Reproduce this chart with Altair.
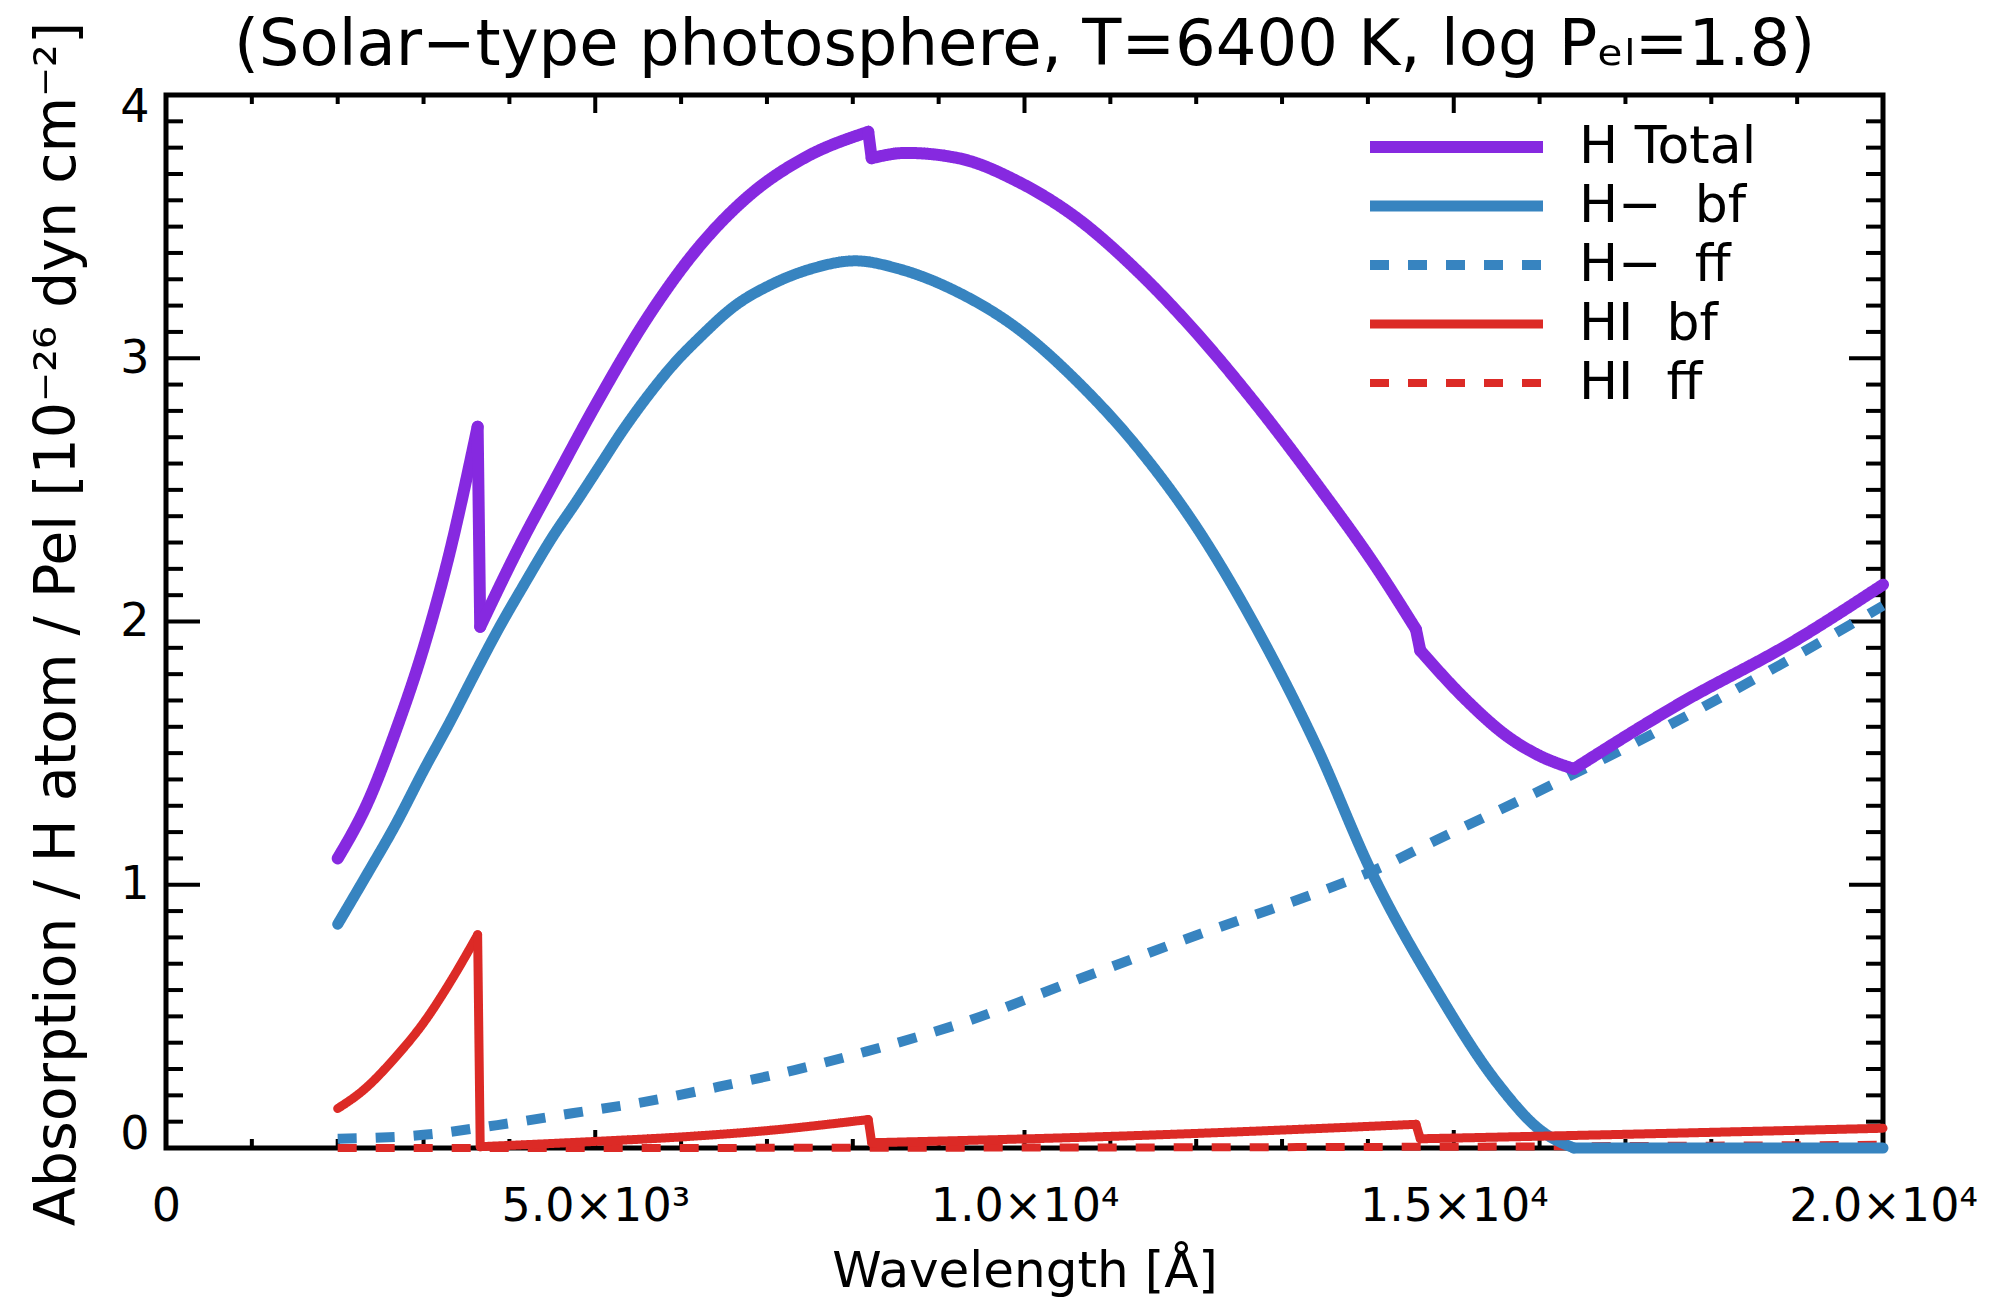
import altair as alt
import pandas as pd

FONT = "DejaVu Sans"

# ---------------- data ----------------
SERIES = ["H Total", "H\u2212\u00a0 bf", "H\u2212\u00a0 ff", "HI\u00a0 bf", "HI\u00a0 ff"]
COLORS = ["#8629E0", "#3784C0", "#3784C0", "#DC2A26", "#DC2A26"]
DASHES = [[1, 0], [1, 0], [19, 19], [1, 0], [19, 19]]
WIDTHS = [12, 8, 8, 8, 8]
DRAW_ORDER = [4, 2, 1, 3, 0]   # HI ff, H- ff, H- bf, HI bf, H Total

htot_wl = [2000, 2360, 2660, 3010, 3280, 3630, 3660, 4170, 4500, 5000, 5600, 6200,
           6800, 7430, 8180, 8220, 8620, 9230, 9930, 10620, 11320, 12020, 12710,
           13410, 14110, 14560, 14610, 15150, 15640, 16000, 16400, 17590, 18990, 20000]
htot_v = [1.10, 1.32, 1.57, 1.91, 2.23, 2.74, 1.98, 2.32, 2.52, 2.82, 3.15, 3.42,
          3.62, 3.76, 3.86, 3.76, 3.78, 3.76, 3.67, 3.53, 3.33, 3.09, 2.82,
          2.52, 2.20, 1.97, 1.89, 1.70, 1.56, 1.49, 1.44, 1.68, 1.93, 2.14]
htot_knots = [3630, 3660, 8180, 8220, 14560, 14610, 16400]

hmbf_wl = [2000, 2360, 2660, 3010, 3310, 3610, 3870, 4170, 4500, 4790, 5030, 5330,
           5620, 5920, 6220, 6630, 7050, 7520, 8030, 8530, 9230, 9930, 10620, 11320,
           12020, 12710, 13410, 14040, 14800, 15500, 16000, 16400, 18000, 20000]
hmbf_v = [0.85, 1.05, 1.22, 1.44, 1.62, 1.81, 1.97, 2.14, 2.32, 2.46, 2.58, 2.73,
          2.86, 2.98, 3.08, 3.20, 3.28, 3.34, 3.37, 3.34, 3.25, 3.11, 2.91, 2.66,
          2.35, 1.97, 1.52, 1.05, 0.60, 0.25, 0.07, 0.0, 0.0, 0.0]
hmbf_knots = [16400]

hmff_wl = [2000, 3000, 3860, 4730, 5590, 6440, 7320, 8150, 9230, 10620, 12020,
           13410, 14040, 14800, 16270, 17590, 18990, 20000]
hmff_v = [0.035, 0.050, 0.087, 0.132, 0.176, 0.233, 0.296, 0.366, 0.47, 0.64, 0.81,
          0.97, 1.05, 1.17, 1.40, 1.62, 1.87, 2.06]
hmff_knots = []

hibf_wl = [2000, 2300, 2660, 3010, 3310, 3630, 3660, 5000, 6000, 7000, 8180, 8220,
           11460, 13790, 14560, 14610, 17000, 20000]
hibf_v = [0.15, 0.22, 0.34, 0.48, 0.63, 0.81, 0.005, 0.025, 0.042, 0.066, 0.108, 0.02,
          0.049, 0.079, 0.09, 0.035, 0.052, 0.075]
hibf_knots = [3630, 3660, 8180, 8220, 14560, 14610]

hiff_wl = [2000, 5000, 8000, 11000, 14000, 16000, 18000, 20000]
hiff_v = [0.0, 0.0, 0.001, 0.002, 0.004, 0.006, 0.009, 0.012]
hiff_knots = []

CURVES = [(htot_wl, htot_v, htot_knots), (hmbf_wl, hmbf_v, hmbf_knots),
          (hmff_wl, hmff_v, hmff_knots), (hibf_wl, hibf_v, hibf_knots),
          (hiff_wl, hiff_v, hiff_knots)]

X_TICKS = [0, 5000, 10000, 15000, 20000]
X_TICK_LABELS = ["0", "5.0\u00d710\u00b3", "1.0\u00d710\u2074", "1.5\u00d710\u2074", "2.0\u00d710\u2074"]
X_MINOR = [w for w in range(1000, 20000, 1000) if w % 5000]
Y_TICKS = [0, 1, 2, 3, 4]
Y_MINOR = [round(i / 10, 1) for i in range(1, 40) if i % 10]

TITLE = "(Solar\u2212type photosphere, T=6400 K, log P\u2091\u2097=1.8)"
X_TITLE = "Wavelength [\u00c5]"
Y_TITLE = "Absorption / H atom / Pel [10\u207b\u00b2\u2076 dyn cm\u207b\u00b2]"

# ---------------- build tables (smooth pieces split at edges/kinks) ----------------
rows = []
seg = 0
for k, idx in enumerate(DRAW_ORDER):
    wl, v, knots = CURVES[idx]
    for i, (a, b) in enumerate(zip(wl, v)):
        rows.append({"series": SERIES[idx], "wl": a, "v": b, "seg": seg,
                     "dashed": DASHES[idx][1] > 0})
        if a in knots and i not in (0, len(wl) - 1):
            seg += 1
            rows.append({"series": SERIES[idx], "wl": a, "v": b, "seg": seg,
                         "dashed": DASHES[idx][1] > 0})
    seg += 1
df = pd.DataFrame(rows)

W, H = 1717, 1053
xscale = alt.Scale(domain=[0, 20000], nice=False, zero=False)
yscale = alt.Scale(domain=[0, 4], nice=False, zero=False)

label_expr = " : ".join(
    f"datum.value == {t} ? '{s}'" for t, s in zip(X_TICKS, X_TICK_LABELS)
) + " : ''"

XAXIS = alt.Axis(values=X_TICKS, labelExpr=label_expr, title=X_TITLE,
                 labelFontSize=46, labelPadding=36, labelFlush=False, labelLimit=400,
                 titleFontSize=50, titleX=W / 2, titleY=123,
                 titleBaseline="middle", titleAnchor="middle")
YAXIS = alt.Axis(values=Y_TICKS, format="d", title=Y_TITLE,
                 labelFontSize=46, labelPadding=17, labelFlush=True, labelFlushOffset=10,
                 titleFontSize=57, titleX=-109, titleY=H / 2 + 2, titleLimit=1400,
                 titleAngle=270, titleBaseline="middle", titleAlign="center")

legend = alt.Legend(
    title=None, orient="none", legendX=1198, legendY=27,
    symbolType="stroke", symbolSize=173 * 173, symbolStrokeWidth=9,
    clipHeight=50, rowPadding=7, labelFontSize=52, labelFont=FONT,
    labelColor="black", labelOffset=30, padding=0, labelLimit=600,
)


def line_layer(dashed, cap):
    return alt.Chart(df).transform_filter(
        alt.datum.dashed == dashed
    ).mark_line(strokeCap=cap, strokeJoin="miter", interpolate="monotone").encode(
        x=alt.X("wl:Q", scale=xscale, axis=XAXIS),
        y=alt.Y("v:Q", scale=yscale, axis=YAXIS),
        color=alt.Color("series:N", scale=alt.Scale(domain=SERIES, range=COLORS), legend=legend),
        strokeDash=alt.StrokeDash("series:N", scale=alt.Scale(domain=SERIES, range=DASHES), legend=legend),
        strokeWidth=alt.StrokeWidth("series:N", scale=alt.Scale(domain=SERIES, range=WIDTHS), legend=None),
        detail="seg:Q",
    )


xmaj = pd.DataFrame({"t": X_TICKS})
xmin = pd.DataFrame({"t": X_MINOR})
ymaj = pd.DataFrame({"t": Y_TICKS})
ymin = pd.DataFrame({"t": Y_MINOR})


def xticks(data, length):
    base = alt.Chart(data).mark_rule(color="black", strokeWidth=4)
    bottom = base.encode(x=alt.X("t:Q", scale=xscale, axis=XAXIS),
                         y=alt.value(H), y2=alt.value(H - length))
    top = base.encode(x=alt.X("t:Q", scale=xscale, axis=XAXIS),
                      y=alt.value(0), y2=alt.value(length))
    return [bottom, top]


def yticks(data, length):
    base = alt.Chart(data).mark_rule(color="black", strokeWidth=4)
    left = base.encode(y=alt.Y("t:Q", scale=yscale, axis=YAXIS),
                       x=alt.value(0), x2=alt.value(length))
    right = base.encode(y=alt.Y("t:Q", scale=yscale, axis=YAXIS),
                        x=alt.value(W), x2=alt.value(W - length))
    return [left, right]


title_layer = alt.Chart(pd.DataFrame({"title": [TITLE]})).mark_text(
    font=FONT, fontSize=64, color="black", align="center", baseline="alphabetic"
).encode(text="title:N", x=alt.value(W / 2), y=alt.value(-30))

layers = (xticks(xmaj, 18) + xticks(xmin, 9) + yticks(ymaj, 34) + yticks(ymin, 17)
          + [line_layer(True, "butt"), line_layer(False, "round"), title_layer])

chart = alt.layer(*layers).properties(
    width=W, height=H,
    autosize=alt.AutoSizeParams(type="none"),
    padding={"left": 166, "top": 95, "right": 120, "bottom": 152},
    background="white",
).configure_view(
    stroke="black", strokeWidth=5
).configure_axis(
    grid=False, domain=False, ticks=False, labelFont=FONT, titleFont=FONT,
    labelColor="black", titleColor="black", titleFontWeight="normal",
)

chart.save("out.html", embed_options={"renderer": "svg", "actions": False})
